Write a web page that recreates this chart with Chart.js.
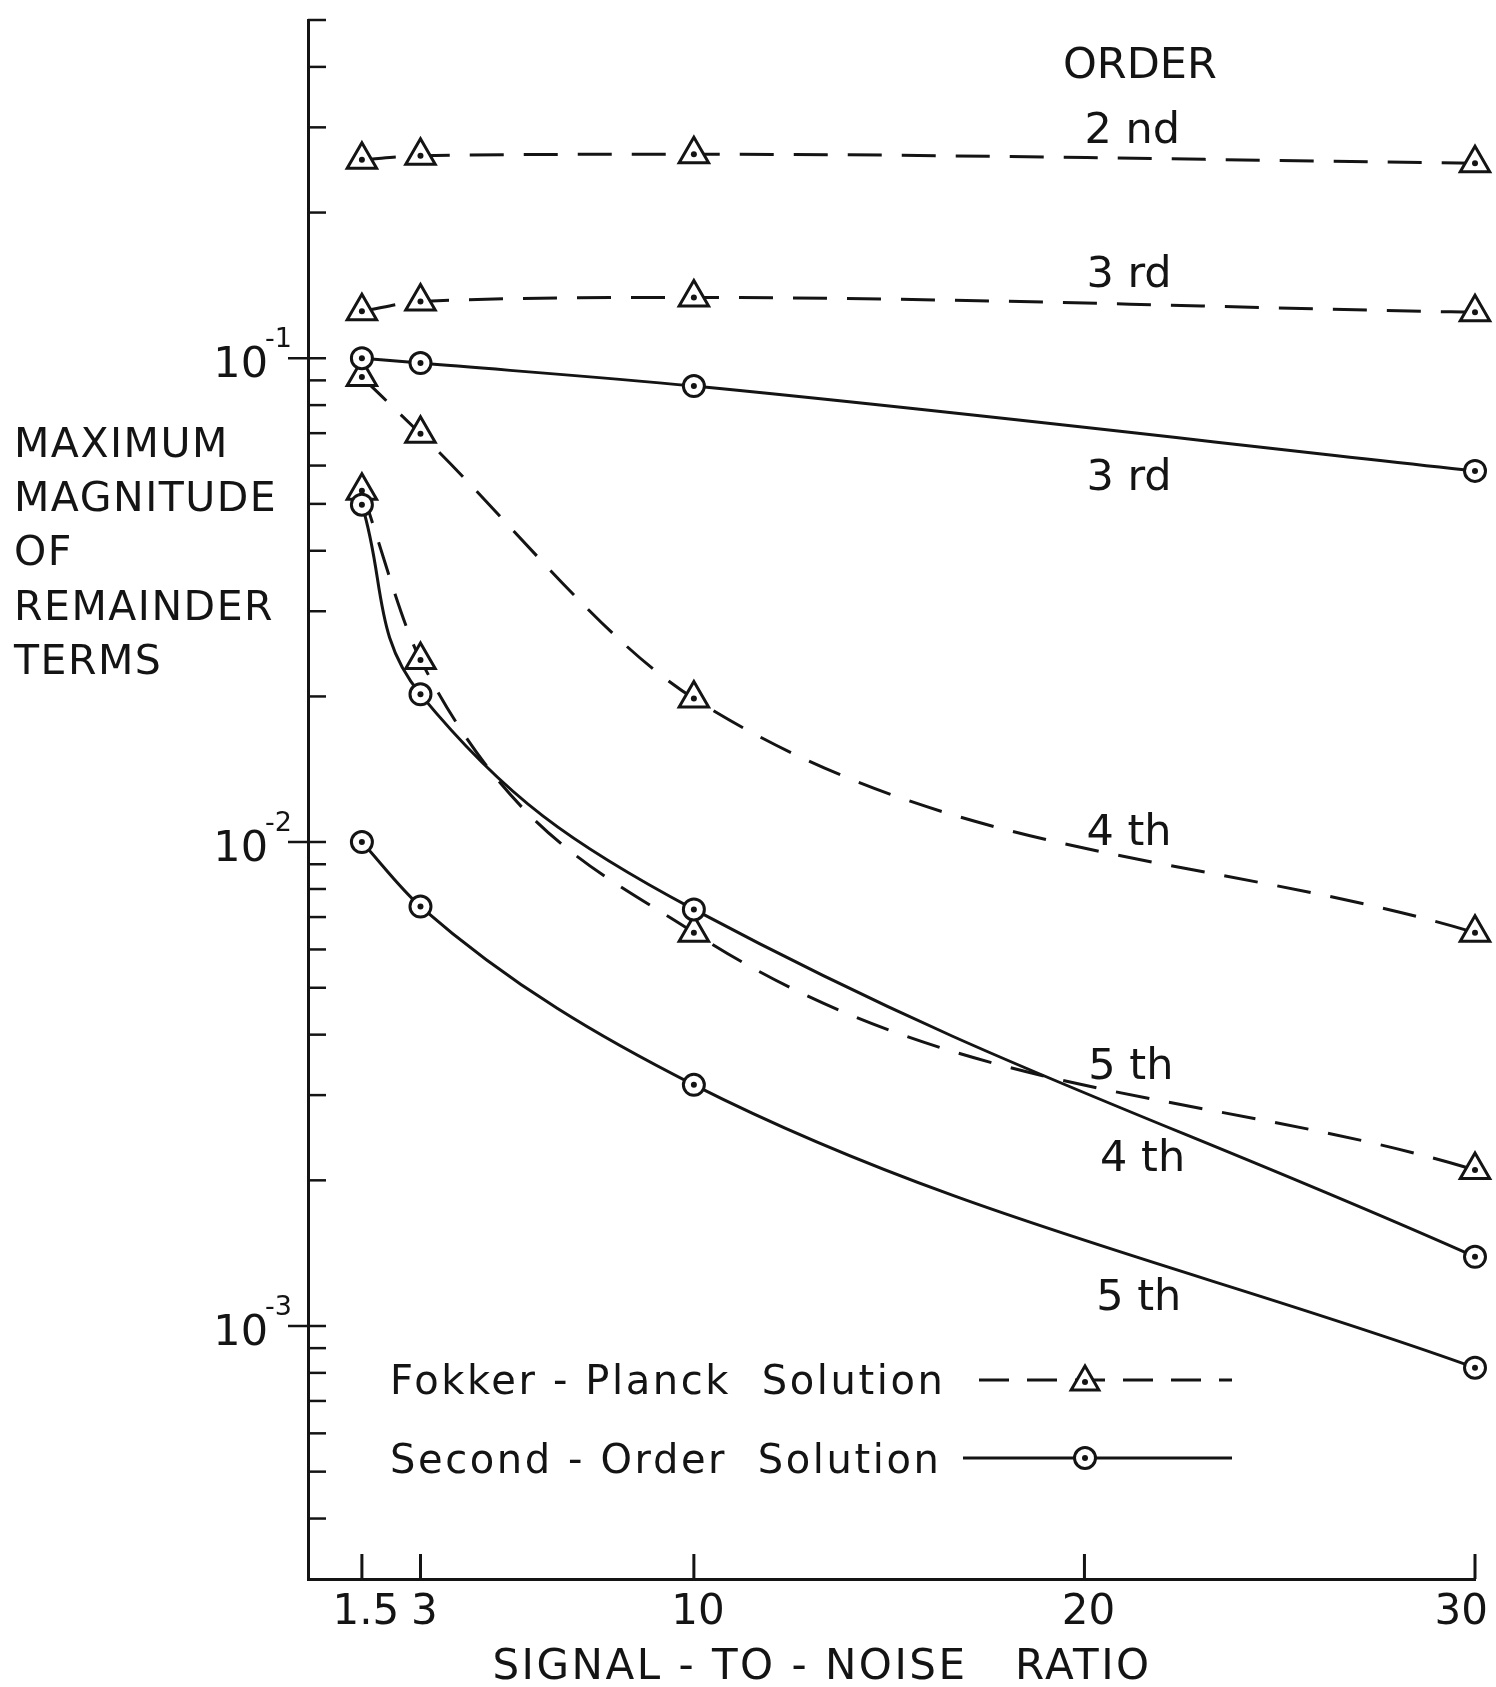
<!DOCTYPE html>
<html>
<head>
<meta charset="utf-8">
<script src="https://cdn.jsdelivr.net/npm/chart.js@4/dist/chart.umd.min.js"></script>
<style>
  html, body { margin: 0; padding: 0; background: #fff; }
  #c { display: block; }
</style>
</head>
<body>
<canvas id="c" width="1496" height="1687"></canvas>
<script>
// ---- data ----
const snr = [1.5, 3, 10, 30];
// Fokker-Planck solution (dashed, triangles)
const fp2 = [0.257, 0.262, 0.264, 0.253];
const fp3 = [0.125, 0.131, 0.1335, 0.1244];
const fp4 = [0.0914, 0.0698, 0.0198, 0.0065];
const fp5 = [0.0532, 0.0238, 0.0065, 0.0021];
// Second-order solution (solid, circles)
const so3 = [0.100, 0.0977, 0.0876, 0.0585];
const so4 = [0.0498, 0.0202, 0.00726, 0.00139];
const so5 = [0.0100, 0.00736, 0.00315, 0.00082];

const xTicks = [1.5, 3, 10, 20, 30];
const xTickLabels = ['1.5', '3', '10', '20', '30'];
const yLabelValues = [0.1, 0.01, 0.001];
const yLabelExponents = ['-1', '-2', '-3'];

const orderLabels = ['ORDER', '2 nd', '3 rd', '3 rd', '4 th', '5 th', '4 th', '5 th'];
const orderLabelX = [19.45, 20.0, 20.05, 20.05, 20.05, 20.1, 20.4, 20.3];
const orderLabelY = [0.380, 0.279, 0.1405, 0.0535, 0.00984, 0.00324, 0.00209, 0.00108];

const legendLabels = ['Fokker - Planck  Solution', 'Second - Order  Solution'];
const yTitleLines = ['MAXIMUM', 'MAGNITUDE', 'OF', 'REMAINDER', 'TERMS'];
const xTitle = 'SIGNAL - TO - NOISE   RATIO';

// ---- styling ----
const INK = '#141414';
const FONT = '"DejaVu Sans", "Liberation Sans", sans-serif';
const DASH = [34, 20];

function pts(vals) { return snr.map((x, i) => ({ x: x, y: vals[i] })); }

function fpSet(label, vals) {
  return {
    label, data: pts(vals), borderColor: INK, borderWidth: 3, borderDash: DASH,
    pointStyle: 'triangle', pointRadius: 17, pointBorderWidth: 3,
    pointBackgroundColor: '#fff', pointBorderColor: INK,
    cubicInterpolationMode: 'monotone', fill: false, clip: false, order: 1
  };
}
function soSet(label, vals, mode) {
  return {
    label, data: pts(vals), borderColor: INK, borderWidth: 3,
    pointStyle: 'circle', pointRadius: 10.5, pointBorderWidth: 3,
    pointBackgroundColor: '#fff', pointBorderColor: INK,
    cubicInterpolationMode: mode || 'monotone', tension: 0.4,
    fill: false, clip: false, order: 0
  };
}

function txt(ctx, s, x, y, size, align, spacing) {
  ctx.font = size + 'px ' + FONT;
  ctx.textAlign = align || 'left';
  ctx.textBaseline = 'alphabetic';
  ctx.fillStyle = INK;
  if ('letterSpacing' in ctx) ctx.letterSpacing = (spacing || 0) + 'px';
  ctx.fillText(s, x, y);
  if ('letterSpacing' in ctx) ctx.letterSpacing = '0px';
}

function drawTriangle(ctx, x, y, r) {
  ctx.beginPath();
  for (let k = 0; k < 3; k++) {
    const a = k * 2 * Math.PI / 3;
    const px = x + Math.sin(a) * r, py = y - Math.cos(a) * r;
    if (k === 0) ctx.moveTo(px, py); else ctx.lineTo(px, py);
  }
  ctx.closePath();
  ctx.fillStyle = '#fff'; ctx.fill();
  ctx.lineWidth = 3; ctx.strokeStyle = INK; ctx.stroke();
}
function drawCircle(ctx, x, y, r) {
  ctx.beginPath(); ctx.arc(x, y, r, 0, 2 * Math.PI);
  ctx.fillStyle = '#fff'; ctx.fill();
  ctx.lineWidth = 3; ctx.strokeStyle = INK; ctx.stroke();
}
function dot(ctx, x, y) {
  ctx.beginPath(); ctx.arc(x, y, 3, 0, 2 * Math.PI); ctx.fillStyle = INK; ctx.fill();
}

const decor = {
  id: 'decor',
  afterDatasetsDraw(chart) {
    const ctx = chart.ctx;
    ctx.save();
    chart.data.datasets.forEach((ds, i) => {
      chart.getDatasetMeta(i).data.forEach(p => dot(ctx, p.x, p.y));
    });
    ctx.restore();
  },
  afterDraw(chart) {
    const ctx = chart.ctx;
    const xs = chart.scales.x, ys = chart.scales.y, area = chart.chartArea;
    ctx.save();
    ctx.strokeStyle = INK;
    ctx.lineWidth = 2.5;
    ctx.lineCap = 'butt';
    // y ticks pointing inward; decades extend outward too
    ys.ticks.forEach(t => {
      if (t.value <= ys.min * 1.0001) return;
      const py = ys.getPixelForValue(t.value);
      const lg = Math.log10(t.value);
      const major = Math.abs(lg - Math.round(lg)) < 1e-6;
      ctx.beginPath();
      ctx.moveTo(area.left - (major ? 20 : 0), py);
      ctx.lineTo(area.left + 18, py);
      ctx.stroke();
    });
    // x ticks pointing upward
    ctx.lineWidth = 3;
    xs.ticks.forEach(t => {
      const px = xs.getPixelForValue(t.value);
      ctx.beginPath();
      ctx.moveTo(px, area.bottom);
      ctx.lineTo(px, area.bottom - 25);
      ctx.stroke();
    });
    // x tick labels
    ctx.font = '42px ' + FONT;
    xs.ticks.forEach(t => {
      const idx = xTicks.indexOf(t.value);
      if (idx < 0) return;
      const w = ctx.measureText(xTickLabels[idx]).width;
      let cx = xs.getPixelForValue(t.value) + 4;
      cx = Math.min(cx, chart.width - 8 - w / 2);
      txt(ctx, xTickLabels[idx], cx, area.bottom + 45, 42, 'center', 0);
    });
    // y tick labels 10^n
    yLabelValues.forEach((v, i) => {
      const py = ys.getPixelForValue(v);
      txt(ctx, '10', area.left - 40, py + 19, 43, 'right', 0);
      txt(ctx, yLabelExponents[i], area.left - 16, py - 11, 27, 'right', 0);
    });
    // axis titles
    yTitleLines.forEach((s, i) => txt(ctx, s, 14, 457 + i * 54.2, 41, 'left', 1.5));
    txt(ctx, xTitle, 822, area.bottom + 100, 42, 'center', 2.5);
    // order annotations anchored to data coordinates
    orderLabels.forEach((s, i) => {
      txt(ctx, s, xs.getPixelForValue(orderLabelX[i]), ys.getPixelForValue(orderLabelY[i]), 43, 'left', 0);
    });
    // legend
    const lx = 390;
    txt(ctx, legendLabels[0], lx, 1394, 40, 'left', 2.6);
    txt(ctx, legendLabels[1], lx, 1473, 40, 'left', 2.6);
    ctx.strokeStyle = INK; ctx.lineWidth = 3;
    ctx.setLineDash([30, 18]);
    ctx.beginPath(); ctx.moveTo(979, 1380); ctx.lineTo(1232, 1380); ctx.stroke();
    ctx.setLineDash([]);
    drawTriangle(ctx, 1085, 1382, 16);
    dot(ctx, 1085, 1382);
    ctx.beginPath(); ctx.moveTo(963, 1458); ctx.lineTo(1232, 1458); ctx.strokeStyle = INK; ctx.lineWidth = 3; ctx.stroke();
    drawCircle(ctx, 1085, 1458, 10.5);
    dot(ctx, 1085, 1458);
    ctx.restore();
  }
};

new Chart(document.getElementById('c'), {
  type: 'line',
  data: {
    datasets: [
      fpSet('FP 2nd', fp2), fpSet('FP 3rd', fp3), fpSet('FP 4th', fp4), fpSet('FP 5th', fp5),
      soSet('SO 3rd', so3), soSet('SO 4th', so4, 'default'), soSet('SO 5th', so5)
    ]
  },
  options: {
    responsive: false,
    animation: false,
    devicePixelRatio: 1,
    layout: { padding: { left: 308, right: 21, top: 16, bottom: 108 } },
    plugins: { legend: { display: false }, tooltip: { enabled: false } },
    scales: {
      x: {
        type: 'linear', min: 0.12, max: 30,
        afterBuildTicks: (s) => { s.ticks = xTicks.map(v => ({ value: v })); },
        ticks: { display: false },
        grid: { display: false, drawTicks: false },
        border: { display: true, color: INK, width: 3 }
      },
      y: {
        type: 'logarithmic', min: 0.0003, max: 0.5,
        // keep only the whole-number multiples of each decade (1..9 x 10^n)
        afterBuildTicks: (s) => {
          s.ticks = s.ticks.filter(t => {
            const m = t.value / Math.pow(10, Math.floor(Math.log10(t.value) + 1e-9));
            return Math.abs(m - Math.round(m)) < 1e-6;
          });
        },
        ticks: { display: false },
        grid: { display: false, drawTicks: false },
        border: { display: true, color: INK, width: 3 }
      }
    }
  },
  plugins: [decor]
});
</script>
</body>
</html>
